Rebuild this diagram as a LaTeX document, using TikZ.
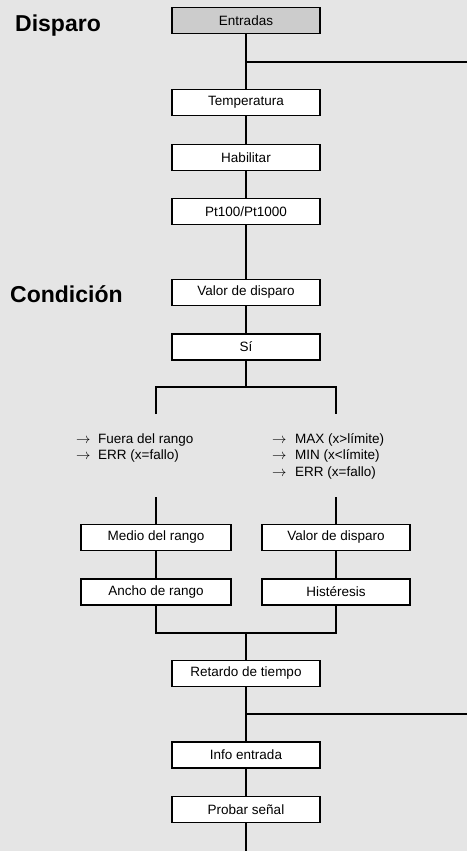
\documentclass[tikz,border=0pt]{standalone}
\usepackage{fontspec}
\setmainfont{Liberation Sans}
\begin{document}
\begin{tikzpicture}[x=1pt,y=-1pt,
  conn/.style={line width=1.7pt},
  box/.style={draw=black,line width=1.8pt,fill=white,minimum width=148pt,minimum height=26pt,inner sep=0pt,font=\fontsize{13.5}{16}\selectfont},
  graybox/.style={box,fill=black!20},
  heading/.style={anchor=base west,inner sep=0pt,font=\fontsize{23}{27}\selectfont\bfseries},
  item/.style={anchor=base west,inner sep=0pt,font=\fontsize{13.5}{16}\selectfont}]
\useasboundingbox (0,0) rectangle (467,851);
\fill[black!10] (0,0) rectangle (467,851);

\node[heading] (h1) at (15,32) {Disparo};
\node[heading] (h2) at (10,302) {Condición};

\node[graybox] (e) at (246,20.5) {Entradas};
\node[box] (t) at (246,102.5) {Temperatura};
\node[box] (hab) at (246,157.5) {Habilitar};
\node[box] (pt) at (246,211.5) {Pt100/Pt1000};
\node[box] (vd) at (246,292.5) {Valor de disparo};
\node[box] (si) at (246,347) {Sí};
\node[box,minimum width=150pt] (mr) at (156,537.5) {Medio del rango};
\node[box] (vd2) at (336,537.5) {Valor de disparo};
\node[box,minimum width=150pt] (ar) at (156,592) {Ancho de rango};
\node[box] (hi) at (336,592) {Histéresis};
\node[box] (rt) at (246,673.5) {Retardo de tiempo};
\node[box] (ie) at (246,755) {Info entrada};
\node[box] (ps) at (246,809.5) {Probar señal};

\node[item] (l1) at (76,443) {\makebox[22pt][l]{$\rightarrow$}Fuera del rango};
\node[item] (l2) at (76,459) {\makebox[22pt][l]{$\rightarrow$}ERR (x=fallo)};
\node[item] (r1) at (272,443) {\makebox[23pt][l]{$\rightarrow$}MAX (x>límite)};
\node[item] (r2) at (272,459) {\makebox[23pt][l]{$\rightarrow$}MIN (x<límite)};
\node[item] (r3) at (272,476) {\makebox[23pt][l]{$\rightarrow$}ERR (x=fallo)};

\coordinate (j1) at (246,62);
\coordinate (b1) at (467,62);
\coordinate (s1) at (246,387);
\coordinate (s1l) at (156,387);
\coordinate (s1r) at (336,387);
\coordinate (s1le) at (156,414);
\coordinate (s1re) at (336,414);
\coordinate (s2l) at (156,497);
\coordinate (s2r) at (336,497);
\coordinate (m1) at (246,633);
\coordinate (m1l) at (156,633);
\coordinate (m1r) at (336,633);
\coordinate (j2) at (246,714);
\coordinate (b2) at (467,714);
\coordinate (endp) at (246,851);

\draw[conn] (e) -- (t);
\draw[conn] (j1) -- (b1);
\draw[conn] (t) -- (hab);
\draw[conn] (hab) -- (pt);
\draw[conn] (pt) -- (vd);
\draw[conn] (vd) -- (si);
\draw[conn] (si) -- (s1);
\draw[conn] (s1le) -- (s1l) -- (s1r) -- (s1re);
\draw[conn] (s2l) -- (mr);
\draw[conn] (s2r) -- (vd2);
\draw[conn] (mr) -- (ar);
\draw[conn] (vd2) -- (hi);
\draw[conn] (ar.south) -- (m1l) -- (m1r) -- (hi.south);
\draw[conn] (m1) -- (rt);
\draw[conn] (rt) -- (ie);
\draw[conn] (j2) -- (b2);
\draw[conn] (ie) -- (ps);
\draw[conn] (ps) -- (endp);
\end{tikzpicture}
\end{document}
